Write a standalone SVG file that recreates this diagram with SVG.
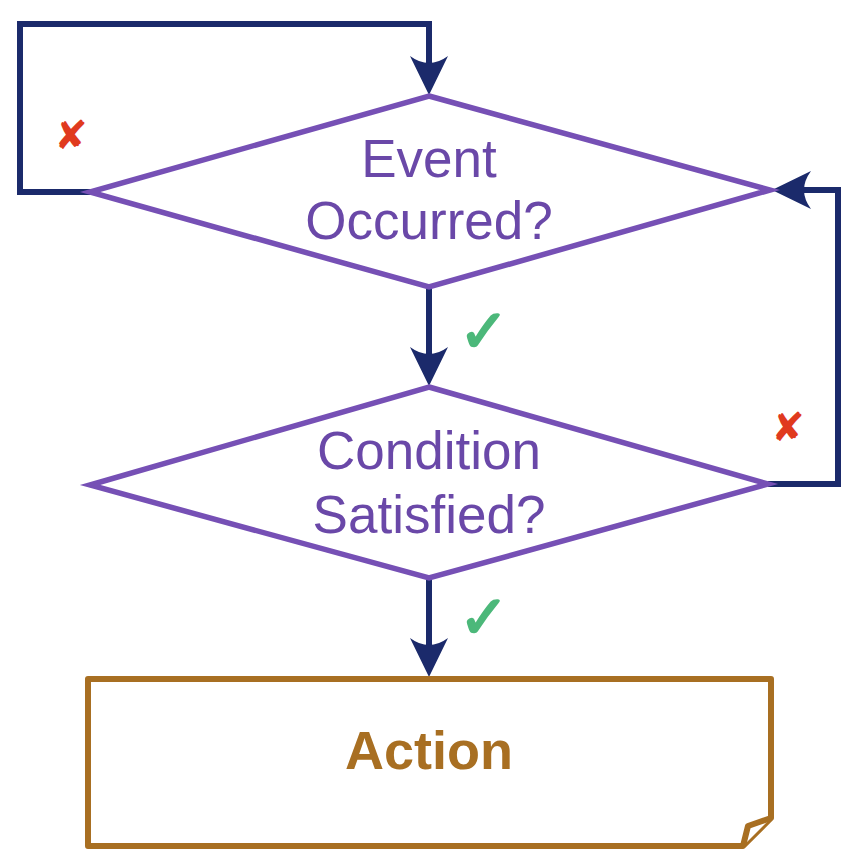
<svg xmlns="http://www.w3.org/2000/svg" width="852" height="868" viewBox="0 0 852 868">
  <style>
    .diamond { fill: #ffffff; stroke: #7650b5; stroke-width: 5.5; stroke-linejoin: miter; }
    .dtext { font-family: "Liberation Sans", Arial, sans-serif; font-size: 53px; fill: #6a48a8; text-anchor: middle; }
    .conn { fill: none; stroke: #1b2a6b; stroke-width: 6; stroke-linejoin: miter; }
    .action { fill: #ffffff; stroke: #a86f22; stroke-width: 6; stroke-linejoin: round; }
    .atext { font-family: "Liberation Sans", Arial, sans-serif; font-size: 54px; font-weight: bold; fill: #a86f22; text-anchor: middle; }
    .no { font-family: "DejaVu Sans", sans-serif; font-size: 40px; fill: #e03a1e; text-anchor: middle; }
    .yes { font-family: "DejaVu Sans", sans-serif; font-size: 60px; fill: #4cb87a; stroke: #4cb87a; stroke-width: 2; text-anchor: middle; }
  </style>
  <defs>
    <marker id="arrow" viewBox="0 0 40 40" refX="32" refY="20" markerWidth="40" markerHeight="40" markerUnits="userSpaceOnUse" orient="auto">
      <path d="M1,1 L40,20 L1,39 Q15,20 1,1 Z" fill="#1b2a6b"/>
    </marker>
  </defs>
  <rect width="852" height="868" fill="#ffffff"/>

  <g id="connectors">
    <path class="conn" d="M90,192 L20,192 L20,24 L429,24 L429,87" marker-end="url(#arrow)"/>
    <path class="conn" d="M429,287 L429,378" marker-end="url(#arrow)"/>
    <path class="conn" d="M768,484 L838,484 L838,190 L780,190" marker-end="url(#arrow)"/>
    <path class="conn" d="M429,578 L429,669" marker-end="url(#arrow)"/>
    <text class="no" x="71" y="149">✘</text>
    <text class="yes" x="484" y="352">✓</text>
    <text class="no" x="788" y="441">✘</text>
    <text class="yes" x="484" y="638">✓</text>
  </g>

  <g id="event">
    <polygon class="diamond" points="429,96 770,190 429,287 90,192"/>
    <text class="dtext" x="429" y="177">Event</text>
    <text class="dtext" x="429" y="239">Occurred?</text>
  </g>

  <g id="condition">
    <polygon class="diamond" points="429,387 768,484 429,578 90,485"/>
    <text class="dtext" x="429" y="469">Condition</text>
    <text class="dtext" x="429" y="533">Satisfied?</text>
  </g>

  <g id="action">
    <path class="action" d="M88,679 L771,679 L771,818 L743,846 L88,846 Z"/>
    <path class="action" d="M743,846 L748,826 L771,818" fill="none"/>
    <text class="atext" x="429" y="769">Action</text>
  </g>
</svg>
